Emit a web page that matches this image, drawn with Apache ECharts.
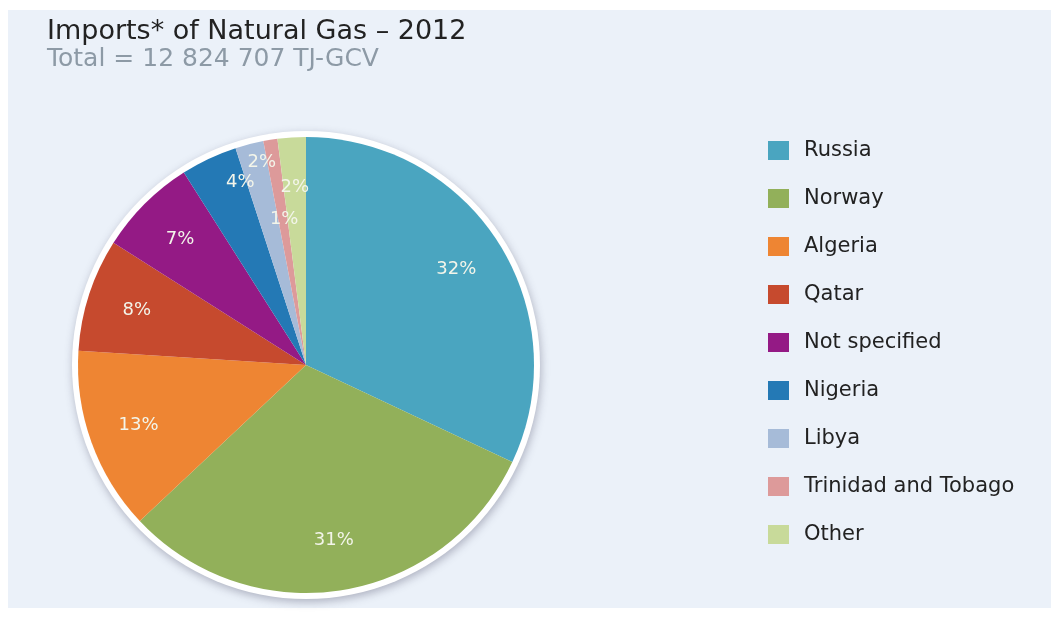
<!DOCTYPE html>
<html>
<head>
<meta charset="utf-8">
<script src="https://cdn.jsdelivr.net/npm/echarts@6/dist/echarts.min.js"></script>
<style>
html,body{margin:0;padding:0;background:#ffffff;}
#chart{width:1051px;height:624px;}
</style>
</head>
<body>
<div id="chart"></div>
<script>
const categories = ['Russia','Norway','Algeria','Qatar','Not specified','Nigeria','Libya','Trinidad and Tobago','Other'];
const shares = [32, 31, 13, 8, 7, 4, 2, 1, 2];
const colors = ['#4aa5c0','#92b05a','#ee8533','#c64a2e','#941a85','#2479b5','#a6bbd8','#dd9a9a','#c8da9a'];
const titleText = 'Imports* of Natural Gas \u2013 2012';
const subtitleText = 'Total = 12 824 707 TJ-GCV';

const cx = 306, cy = 365, R = 228;
const pieData = categories.map((n, i) => ({ name: n, value: shares[i], itemStyle: { color: colors[i] } }));
const labelData = categories.map((n, i) => ({ name: n, value: shares[i] }));
const labelShift = { 5: [10, -22], 6: [0, -30], 7: [6, 30] };

const chart = echarts.init(document.getElementById('chart'));
chart.setOption({
  animation: false,
  backgroundColor: '#ffffff',
  color: colors,
  graphic: [
    { type: 'rect', z: -10, shape: { x: 8, y: 10, width: 1043, height: 598 }, style: { fill: '#ebf1f9' } },
    { type: 'circle', z: 0, shape: { cx: cx, cy: cy, r: R + 6 },
      style: { fill: '#ffffff', shadowBlur: 8, shadowColor: 'rgba(60,60,90,0.35)', shadowOffsetX: 1, shadowOffsetY: 3 } }
  ],
  title: {
    text: titleText,
    subtext: subtitleText,
    left: 42, top: 13,
    itemGap: 2,
    textStyle: { fontFamily: 'DejaVu Sans', fontSize: 27, fontWeight: 'normal', color: '#222222' },
    subtextStyle: { fontFamily: 'DejaVu Sans', fontSize: 25, color: '#8d9aa6' }
  },
  legend: {
    orient: 'vertical',
    left: 763, top: 135,
    icon: 'rect',
    itemWidth: 21, itemHeight: 19,
    itemGap: 27,
    selectedMode: false,
    data: categories,
    textStyle: { fontFamily: 'DejaVu Sans', fontSize: 21, color: '#222222', lineHeight: 20, padding: [0, 0, 0, 10] }
  },
  series: [
    {
      type: 'pie',
      center: [cx, cy],
      radius: [0, R],
      startAngle: 90,
      clockwise: true,
      label: { show: false },
      labelLine: { show: false },
      itemStyle: { borderWidth: 0 },
      silent: true,
      data: pieData
    },
    {
      type: 'pie',
      center: [cx, cy],
      radius: [122, R],
      startAngle: 90,
      clockwise: true,
      silent: true,
      itemStyle: { color: 'rgba(0,0,0,0)' },
      labelLine: { show: false },
      label: {
        show: true,
        position: 'inside',
        formatter: p => p.value + '%',
        fontFamily: 'DejaVu Sans',
        fontSize: 18,
        color: '#f3f5ea'
      },
      labelLayout: function (params) {
        const s = labelShift[params.dataIndex];
        return s ? { dx: s[0], dy: s[1] } : {};
      },
      data: labelData
    }
  ]
});
</script>
</body>
</html>
